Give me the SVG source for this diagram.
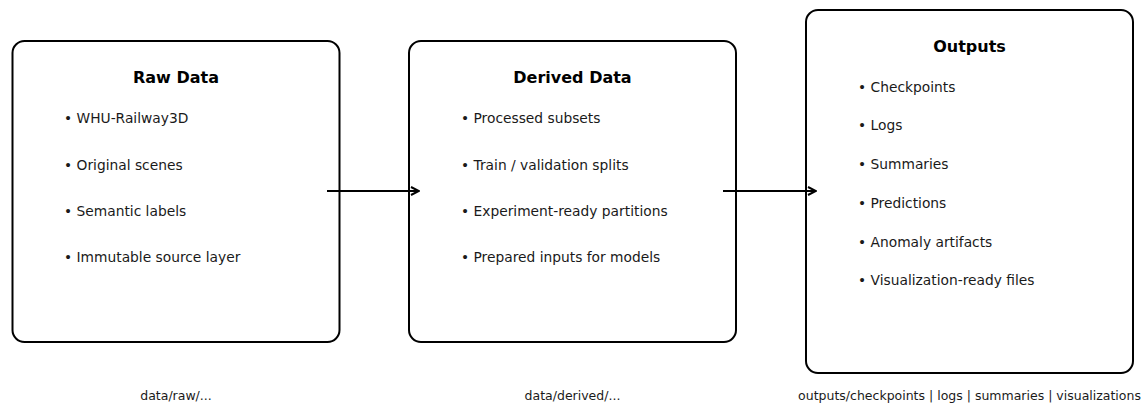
<svg xmlns="http://www.w3.org/2000/svg" width="1148" height="406" viewBox="0 0 1148 406">
  <defs>
    <style>
      .box { fill: #ffffff; stroke: #000000; stroke-width: 2; }
      .title { font-family: "DejaVu Sans", sans-serif; font-weight: bold; font-size: 16px; fill: #000000; text-anchor: middle; }
      .item { font-family: "DejaVu Sans", sans-serif; font-size: 13.8px; fill: #1a1a1a; }
      .path { font-family: "DejaVu Sans", sans-serif; font-size: 12.5px; fill: #1a1a1a; text-anchor: middle; }
      .link { fill: none; stroke: #000000; stroke-width: 2; }
    </style>
    <marker id="head" viewBox="0 0 10 10" refX="9" refY="5" markerWidth="10" markerHeight="10" markerUnits="userSpaceOnUse" orient="auto">
      <polyline points="1,1 9,5 1,9" fill="none" stroke="#000000" stroke-width="2"/>
    </marker>
  </defs>
  <rect width="1148" height="406" fill="#ffffff"/>

  <g id="raw-data">
    <rect class="box" x="12.5" y="41" width="327" height="301" rx="12" ry="12"/>
    <text class="title" x="176" y="83">Raw Data</text>
    <text class="item" x="64" y="123.3">• WHU-Railway3D</text>
    <text class="item" x="64" y="169.6">• Original scenes</text>
    <text class="item" x="64" y="216">• Semantic labels</text>
    <text class="item" x="64" y="262.3">• Immutable source layer</text>
    <text class="path" x="176" y="400">data/raw/...</text>
  </g>

  <g id="derived-data">
    <rect class="box" x="409" y="41" width="327" height="301" rx="12" ry="12"/>
    <text class="title" x="572.5" y="83">Derived Data</text>
    <text class="item" x="461" y="123.3">• Processed subsets</text>
    <text class="item" x="461" y="169.6">• Train / validation splits</text>
    <text class="item" x="461" y="216">• Experiment-ready partitions</text>
    <text class="item" x="461" y="262.3">• Prepared inputs for models</text>
    <text class="path" x="572.5" y="400">data/derived/...</text>
  </g>

  <g id="outputs">
    <rect class="box" x="806" y="10" width="327" height="363" rx="12" ry="12"/>
    <text class="title" x="969.5" y="52">Outputs</text>
    <text class="item" x="858" y="91.7">• Checkpoints</text>
    <text class="item" x="858" y="130.4">• Logs</text>
    <text class="item" x="858" y="169.1">• Summaries</text>
    <text class="item" x="858" y="207.8">• Predictions</text>
    <text class="item" x="858" y="246.5">• Anomaly artifacts</text>
    <text class="item" x="858" y="285.2">• Visualization-ready files</text>
    <text class="path" x="969.5" y="400">outputs/checkpoints | logs | summaries | visualizations</text>
  </g>

  <g id="connectors">
    <line class="link" x1="327" y1="191" x2="419" y2="191" marker-end="url(#head)"/>
    <line class="link" x1="723" y1="191" x2="816" y2="191" marker-end="url(#head)"/>
  </g>
</svg>
